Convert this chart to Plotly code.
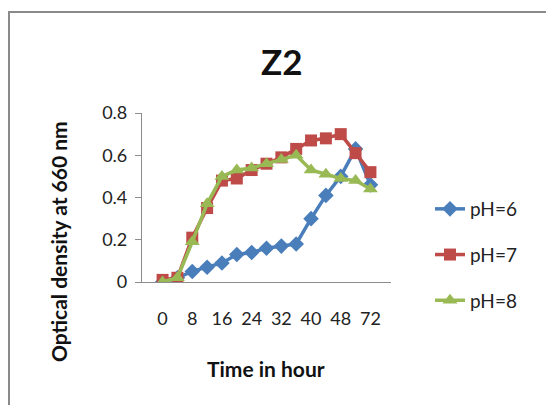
import plotly.graph_objects as go

# Sampling times (hours) and optical density readings at 660 nm
hours = ["0", "4", "8", "12", "16", "20", "24", "28", "32", "36", "40", "44", "48", "60", "72"]
tick_hours = ["0", "8", "16", "24", "32", "40", "48", "72"]

od_ph6 = [0.00, 0.02, 0.05, 0.07, 0.09, 0.13, 0.14, 0.16, 0.17, 0.18, 0.30, 0.41, 0.50, 0.63, 0.46]
od_ph7 = [0.01, 0.02, 0.21, 0.35, 0.48, 0.49, 0.53, 0.56, 0.59, 0.63, 0.67, 0.68, 0.70, 0.61, 0.52]
od_ph8 = [0.00, 0.02, 0.19, 0.37, 0.50, 0.53, 0.54, 0.56, 0.58, 0.60, 0.53, 0.51, 0.49, 0.48, 0.44]

FONT = "Lato, Calibri, Open Sans, sans-serif"

fig = go.Figure()
fig.add_trace(go.Scatter(
    x=hours, y=od_ph6, name="pH=6", mode="lines+markers", legendgroup="g6",
    line=dict(color="#4A7EBB", width=3.5),
    marker=dict(symbol="diamond", size=12, color="#4A7EBB"),
))
fig.add_trace(go.Scatter(
    x=hours, y=od_ph7, name="pH=7", mode="lines+markers", legendgroup="g7",
    line=dict(color="#BE4B48", width=3.5),
    marker=dict(symbol="square", size=12, color="#BE4B48"),
))
fig.add_trace(go.Scatter(
    x=hours, y=od_ph8, name="pH=8", mode="lines+markers", legendgroup="g8",
    line=dict(color="#98B954", width=3.5),
    marker=dict(symbol="triangle-up", size=13, color="#98B954"),
))

L, R, T, B = 142, 155, 113, 123
W, H = 546, 405
pw, ph = W - L - R, H - T - B

def px(x):
    return (x - L) / pw

def py(y):
    return (H - B - y) / ph

fig.update_layout(
    width=W, height=H,
    margin=dict(l=L, r=R, t=T, b=B, autoexpand=False),
    paper_bgcolor="white", plot_bgcolor="white",
    font=dict(family=FONT, size=18, color="#222222"),
    showlegend=True,
    legend=dict(
        x=px(430), y=py(190), xanchor="left", yanchor="top",
        font=dict(size=19, family=FONT, color="#222222"),
        tracegroupgap=18, bgcolor="rgba(0,0,0,0)",
    ),
    xaxis=dict(
        type="category", tickmode="array", tickvals=tick_hours, ticktext=tick_hours,
        showline=True, linecolor="#8C8C8C", linewidth=1.2,
        ticks="", showgrid=False, zeroline=False,
        tickfont=dict(size=18), ticklabelstandoff=20,
    ),
    yaxis=dict(
        range=[0, 0.8], tickvals=[0, 0.2, 0.4, 0.6, 0.8],
        ticktext=["0", "0.2", "0.4", "0.6", "0.8"],
        showline=True, linecolor="#8C8C8C", linewidth=1.2,
        ticks="outside", ticklen=6, tickcolor="#8C8C8C",
        showgrid=False, zeroline=False,
        tickfont=dict(size=18), ticklabelstandoff=4,
    ),
    shapes=[dict(
        type="rect", xref="paper", yref="paper",
        x0=px(9), x1=px(560), y0=py(420), y1=py(12),
        line=dict(color="#8A8A8A", width=2), layer="below",
    )],
    annotations=[
        dict(text="<b>Z2</b>", x=px(282), y=py(61), xref="paper", yref="paper",
             xanchor="center", yanchor="middle", showarrow=False,
             font=dict(size=35, family=FONT, color="#111111")),
        dict(text="<b>Optical density at 660 nm</b>", x=px(58), y=py(242),
             xref="paper", yref="paper", xanchor="center", yanchor="middle",
             showarrow=False, textangle=-90,
             font=dict(size=21, family=FONT, color="#111111")),
        dict(text="<b>Time in hour</b>", x=px(266), y=py(368),
             xref="paper", yref="paper", xanchor="center", yanchor="middle",
             showarrow=False,
             font=dict(size=21, family=FONT, color="#111111")),
    ],
)

fig.write_html("out.html")
